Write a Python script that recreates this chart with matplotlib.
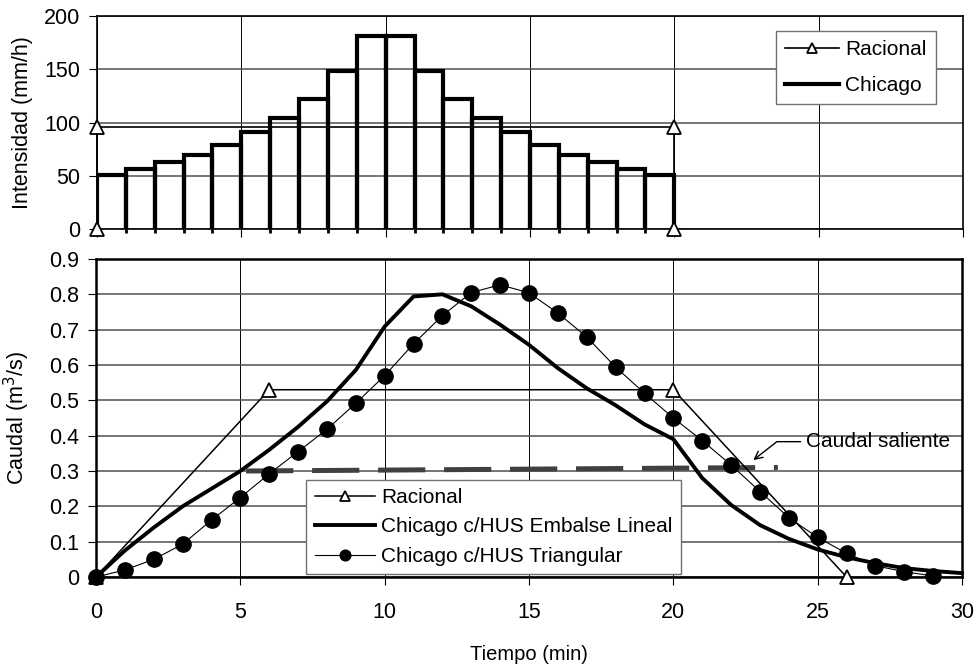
import numpy as np
import matplotlib.pyplot as plt
from matplotlib.ticker import MultipleLocator, FixedLocator

plt.rcParams['font.family'] = ['Liberation Sans', 'DejaVu Sans']
plt.rcParams['lines.scale_dashes'] = False

# --- hietograma (arriba) ---
bar_start = list(range(0, 20))
chicago_intensity = [51, 56, 63, 70, 79, 91, 104, 122, 148, 181,
                     181, 148, 122, 104, 91, 79, 70, 63, 56, 51]
racional_t_top = [0, 0, 20, 20]
racional_i = [0, 96, 96, 0]

# --- hidrogramas (abajo) ---
t_racional = [0, 6, 20, 26]
q_racional = [0, 0.53, 0.53, 0]

t_embalse = list(range(0, 31))
q_embalse = [0, 0.075, 0.14, 0.20, 0.25, 0.30, 0.36, 0.425, 0.497, 0.586,
             0.709, 0.794, 0.80, 0.766, 0.714, 0.657, 0.591, 0.534, 0.486, 0.432,
             0.39, 0.28, 0.204, 0.147, 0.108, 0.078, 0.056, 0.039, 0.025, 0.017,
             0.011]

t_triang = list(range(0, 30))
q_triang = [0, 0.02, 0.05, 0.093, 0.161, 0.225, 0.292, 0.355, 0.418, 0.492,
            0.570, 0.660, 0.740, 0.805, 0.827, 0.804, 0.747, 0.679, 0.594, 0.52,
            0.45, 0.386, 0.317, 0.242, 0.168, 0.112, 0.067, 0.032, 0.015, 0.003]

t_saliente = [5.2, 23.62]
q_saliente = [0.30, 0.31]

FS = 15       # legend / annotation
TFS = 15.5    # ticks and y labels

fig = plt.figure(figsize=(9.76, 6.68), dpi=100)
ax1 = fig.add_axes([0.0994, 0.657, 0.8873, 0.319])
ax2 = fig.add_axes([0.0984, 0.1362, 0.8873, 0.4761])

# step outline of the bars (no bottom edge)
xs, ys = [], []
for x0, h in zip(bar_start, chicago_intensity):
    xs += [x0, x0, x0 + 1, x0 + 1]
    ys += [0, h, h, 0]
ax1.plot(xs, ys, color='k', lw=3, solid_joinstyle='miter', label='Chicago', zorder=3)
ax1.plot(racional_t_top, racional_i, color='k', lw=1.2, marker='^', ms=10,
         mfc='white', mec='k', mew=1.3, label='Racional', clip_on=False, zorder=4)

ax1.set_xlim(0, 30)
ax1.set_ylim(0, 200)
ax1.xaxis.set_major_locator(MultipleLocator(5))
ax1.xaxis.set_minor_locator(FixedLocator(bar_start[1:]))
ax1.tick_params(axis='x', which='both', labelbottom=False, direction='out')
ax1.tick_params(axis='x', which='major', length=6)
ax1.tick_params(axis='x', which='minor', length=3, width=2)
ax1.yaxis.set_major_locator(MultipleLocator(50))
ax1.tick_params(axis='y', labelsize=TFS, length=6, pad=6)
ax1.set_ylabel('Intensidad (mm/h)', fontsize=TFS)
ax1.yaxis.set_label_coords(-0.074, 0.5)

h1, l1 = ax1.get_legend_handles_labels()
leg1 = ax1.legend(h1[::-1], l1[::-1], loc='upper right', bbox_to_anchor=(0.969, 0.93),
                  borderaxespad=0, fontsize=FS, fancybox=False, framealpha=1,
                  edgecolor='#707070', handlelength=2.6, handletextpad=0.3,
                  labelspacing=0.8, borderpad=0.45, markerscale=0.7)
leg1.get_frame().set_linewidth(1)

# bottom
ax2.plot(t_racional, q_racional, color='k', lw=1.1, marker='^', ms=10,
         mfc='white', mec='k', mew=1.3, label='Racional', clip_on=False, zorder=4)
ax2.plot(t_embalse, q_embalse, color='k', lw=2.8, label='Chicago c/HUS Embalse Lineal',
         clip_on=False, zorder=5)
ax2.plot(t_triang, q_triang, color='k', lw=0.8, marker='o', ms=11,
         label='Chicago c/HUS Triangular', clip_on=False, zorder=6)
ax2.plot(t_saliente, q_saliente, color='#404040', lw=3.6, dashes=(34, 13.5),
         solid_capstyle='butt', dash_capstyle='butt', zorder=3)
ax2.annotate('Caudal saliente', xy=(22.77, 0.331), xytext=(24.6, 0.383),
             fontsize=FS, va='center', ha='left',
             arrowprops=dict(arrowstyle='->', color='k', lw=1,
                             connectionstyle='angle,angleA=0,angleB=38,rad=0',
                             shrinkA=2, shrinkB=0, mutation_scale=14))

ax2.set_xlim(0, 30)
ax2.set_ylim(0, 0.9)
ax2.xaxis.set_major_locator(MultipleLocator(5))
ax2.yaxis.set_major_locator(MultipleLocator(0.1))
ax2.yaxis.set_major_formatter(plt.FuncFormatter(lambda v, p: '0' if abs(v) < 1e-9 else f'{v:.1f}'))
ax2.tick_params(axis='x', labelsize=TFS, length=6, pad=12)
ax2.tick_params(axis='y', labelsize=TFS, length=6, pad=6)
ax2.set_ylabel('Caudal (m$^3$/s)', fontsize=TFS)
ax2.yaxis.set_label_coords(-0.074, 0.5)
ax2.set_xlabel('Tiempo (min)', fontsize=14.5, labelpad=16)

leg2 = ax2.legend(loc='lower left', bbox_to_anchor=(0.243, 0.009), borderaxespad=0,
                  fontsize=FS, fancybox=False, framealpha=1, edgecolor='#707070',
                  handlelength=2.9, handletextpad=0.3, labelspacing=0.5,
                  borderpad=0.4, markerscale=0.7)
leg2.get_frame().set_linewidth(1)
leg2.set_zorder(10)

for ax, slw in ((ax1, 1.2), (ax2, 1.8)):
    ax.grid(axis='y', color='#505050', lw=1.1)
    ax.grid(axis='x', color='k', lw=0.7)
    ax.set_axisbelow(True)
    for s in ax.spines.values():
        s.set_color('k')
        s.set_linewidth(slw)

fig.savefig('out.png', dpi=100)
